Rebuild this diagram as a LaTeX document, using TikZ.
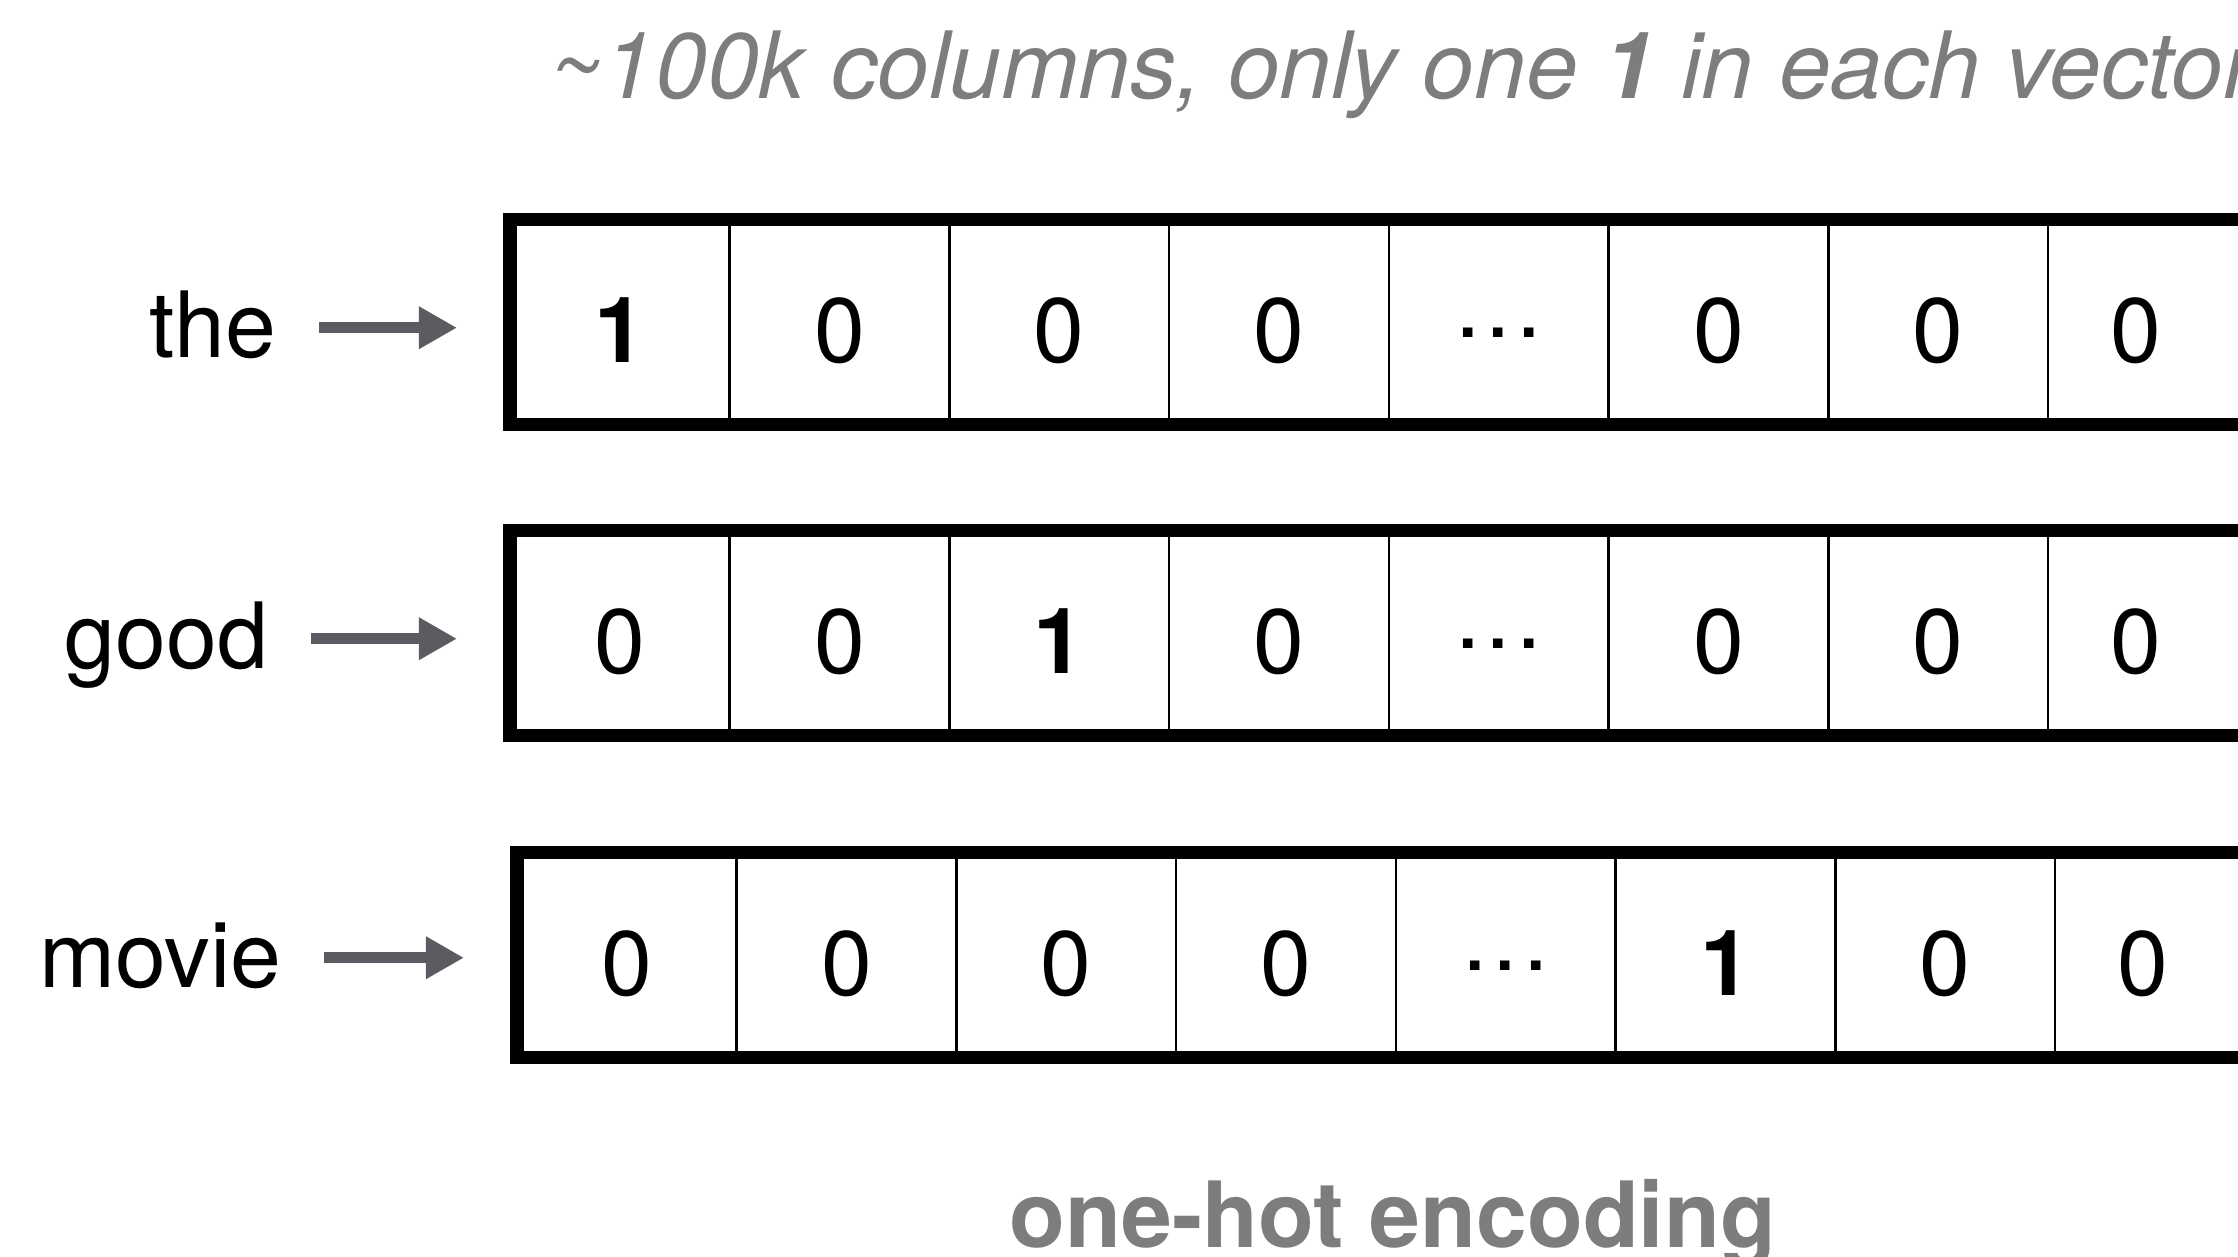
\documentclass[tikz,border=0pt]{standalone}
\usepackage{fontspec}
\setmainfont{TeX Gyre Heros}
\usetikzlibrary{arrows.meta}

\definecolor{notegray}{RGB}{125,125,125}
\definecolor{arrowgray}{RGB}{94,90,97}

\newcommand{\hotone}{\textbf{1}}
\newcommand{\celldots}{\raisebox{0.27em}{.\kern0.06em.\kern0.06em.}}

\begin{document}
\begin{tikzpicture}[x=0.01cm, y=-0.01cm,
    txt/.style={font=\fontsize{26}{31}\selectfont, inner sep=0},
    word/.style={txt, anchor=base east, text height=0.676cm, text depth=0.091cm},
    vec/.style={draw, line width=0.13cm, minimum width=17.6cm, minimum height=2.05cm, outer sep=0, anchor=west},
    digit/.style={txt, anchor=base},
    sep/.style={line width=0.025cm},
    arr/.style={->, >={Triangle[length=0.38cm, width=0.40cm]}, draw=arrowgray, line width=0.105cm, shorten <=0.42cm, shorten >=0.53cm}]
  \useasboundingbox (0,0) rectangle (2238,1257);
  \clip (0,0) rectangle (2238,1257);

  \node[txt, anchor=base west, text=notegray, font=\fontsize{26.4}{31}\selectfont] (note) at (549,98) {\itshape\textasciitilde100k columns, only one \textbf{1} in each vector};

  % words
  \node[word] (w1) at (277,357) {the};
  \node[word] (w2) at (269,668) {good};
  \node[word] (w3) at (282,987) {movie};

  % vectors
  \node[vec] (v1) at (510,322) {};
  \node[vec] (v2) at (510,633) {};
  \node[vec] (v3) at (517,955) {};

  \foreach \v in {v1,v2,v3}
    \foreach \k in {1,...,7}
      \draw[sep] ([xshift=\k*2.196cm]\v.north west) -- ([xshift=\k*2.196cm]\v.south west);

  \foreach \c/\d [count=\k] in {0.5/\hotone, 1.5/0, 2.5/0, 3.5/0, 4.5/\celldots, 5.5/0, 6.5/0, 7.4/0}
    \node[digit] (c1-\k) at ([xshift=\c*2.196cm, yshift=-0.40cm]v1.west) {\d};
  \foreach \c/\d [count=\k] in {0.5/0, 1.5/0, 2.5/\hotone, 3.5/0, 4.5/\celldots, 5.5/0, 6.5/0, 7.4/0}
    \node[digit] (c2-\k) at ([xshift=\c*2.196cm, yshift=-0.40cm]v2.west) {\d};
  \foreach \c/\d [count=\k] in {0.5/0, 1.5/0, 2.5/0, 3.5/0, 4.5/\celldots, 5.5/\hotone, 6.5/0, 7.4/0}
    \node[digit] (c3-\k) at ([xshift=\c*2.196cm, yshift=-0.40cm]v3.west) {\d};

  \draw[arr] (w1.east) -- (w1.east -| v1.west);
  \draw[arr] (w2.east) -- (w2.east -| v2.west);
  \draw[arr] (w3.east) -- (w3.east -| v3.west);

  \node[txt, anchor=base, text=notegray] (caption) at (1393,1247) {\bfseries one-hot encoding};
\end{tikzpicture}
\end{document}
